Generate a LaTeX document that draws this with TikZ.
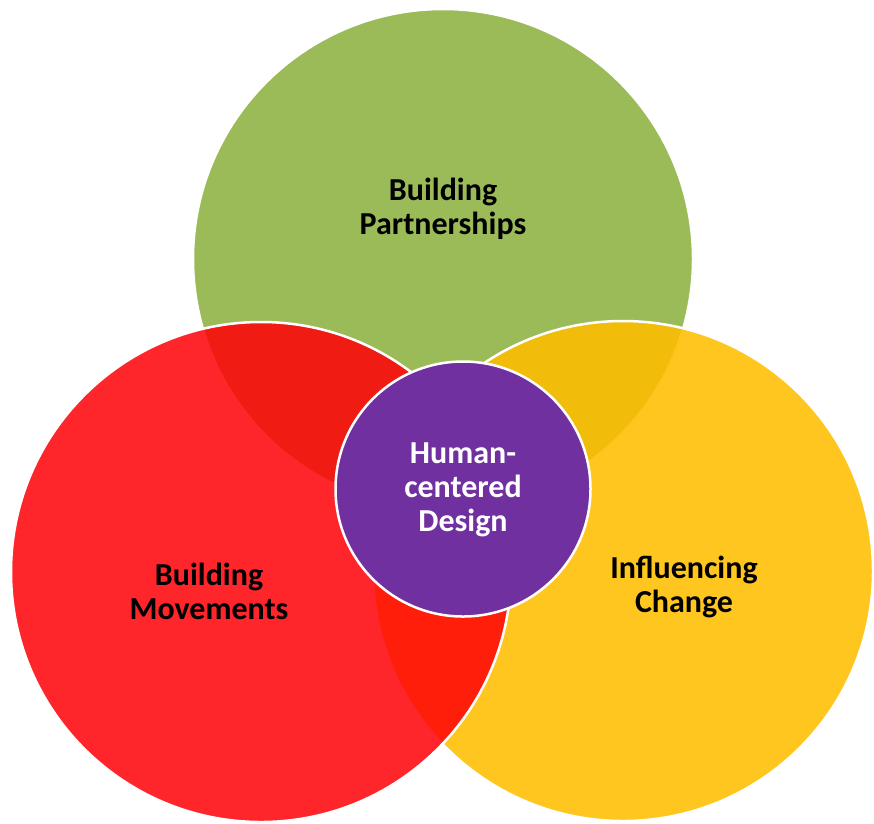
\documentclass[tikz,border=0pt]{standalone}
\usepackage{fontspec}
\setmainfont{Carlito}
\usepackage{tikz}
\usetikzlibrary{shapes}
\definecolor{petalgreen}{RGB}{155,187,89}
\definecolor{petalred}{RGB}{255,0,6}
\definecolor{petalyellow}{RGB}{255,190,0}
\definecolor{corepurple}{RGB}{112,48,160}
\tikzstyle{petal} = [circle, draw=white, line width=2.5pt, inner sep=0pt,
    minimum size=500pt]
\tikzstyle{core} = [circle, draw=white, line width=2.5pt, inner sep=0pt,
    fill=corepurple, minimum size=255pt]
\tikzstyle{caption} = [align=center, font=\fontsize{32}{34}\selectfont\bfseries]

\begin{document}
\begin{tikzpicture}[x=1pt, y=-1pt]
    \useasboundingbox (0,0) rectangle (874,823);
    % Place circles
    \node [petal, fill=petalgreen] (green_circle) at (443,259) {};
    \node [petal, fill=petalyellow, fill opacity=0.88] (yellow_circle) at (623,571) {};
    \node [petal, fill=petalred, fill opacity=0.85] (red_circle) at (261,572) {};
    \node [core] (purple_circle) at (463,489) {};

    % Place labels
    \node [caption] (partnerships) at (443,209) {Building\\Partnerships};
    \node [caption] (movements) at (209,591) {Building\\Movements};
    \node [caption] (change) at (684,587) {Influencing\\Change};
    \node [caption, text=white] (design) at (463,490) {Human-\\centered\\Design};
\end{tikzpicture}
\end{document}
